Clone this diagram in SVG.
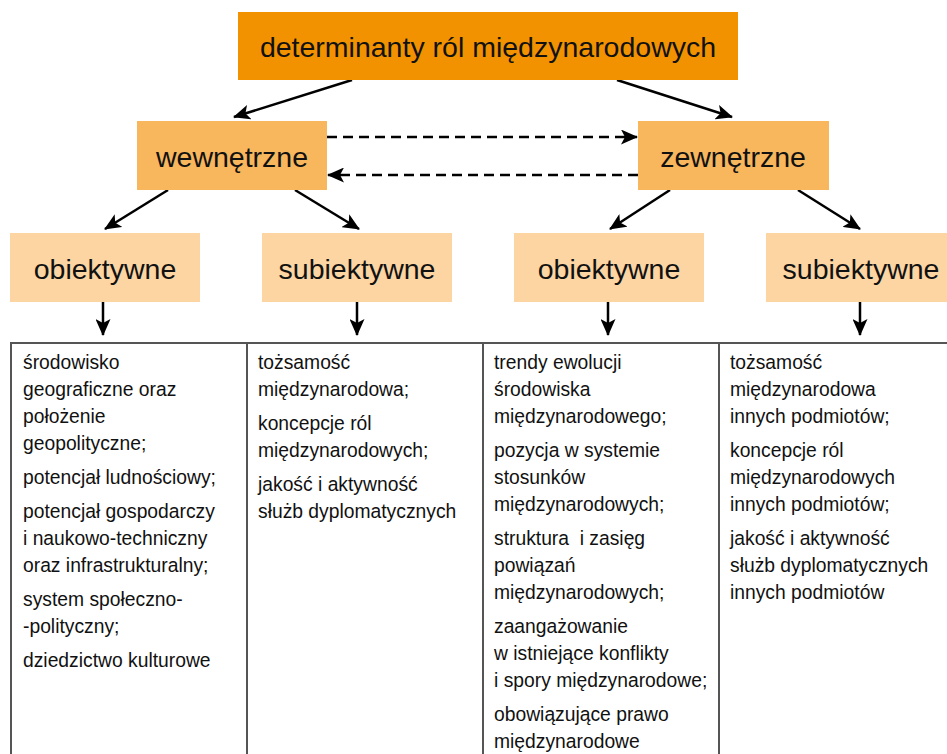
<svg xmlns="http://www.w3.org/2000/svg" width="947" height="754" viewBox="0 0 947 754">
  <style>
    .big { font-family: "Liberation Sans", Arial, sans-serif; font-size: 28.5px; fill: #111; text-anchor: middle; }
    .cell { font-family: "Liberation Sans", Arial, sans-serif; font-size: 19.3px; fill: #111; }
    .pre { white-space: pre; }
    .lvl0 { fill: #F39200; }
    .lvl1 { fill: #F8B65D; }
    .lvl2 { fill: #FCD5A3; }
    .edge { stroke: #000; stroke-width: 2.5; fill: none; marker-end: url(#head); }
    .dash { stroke-dasharray: 10 6; }
    .grid { stroke: #555; stroke-width: 2; fill: none; }
  </style>
  <defs>
    <marker id="head" markerUnits="userSpaceOnUse" markerWidth="17" markerHeight="15" refX="16" refY="7.5" orient="auto">
      <path d="M0,0 L17,7.5 L0,15 L4,7.5 Z" fill="#000"/>
    </marker>
  </defs>

  <rect width="947" height="754" fill="#fff"/>

  <!-- connectors -->
  <g id="connectors">
    <line class="edge" x1="352" y1="80" x2="234" y2="117"/>
    <line class="edge" x1="617" y1="80" x2="732" y2="117"/>
    <line class="edge dash" x1="327" y1="137" x2="637" y2="137"/>
    <line class="edge dash" x1="638" y1="175" x2="328" y2="175"/>
    <line class="edge" x1="168" y1="190" x2="105" y2="229"/>
    <line class="edge" x1="295" y1="190" x2="359" y2="229"/>
    <line class="edge" x1="670" y1="190" x2="610" y2="229"/>
    <line class="edge" x1="798" y1="190" x2="860" y2="229"/>
    <line class="edge" x1="103" y1="302" x2="103" y2="335"/>
    <line class="edge" x1="357" y1="302" x2="357" y2="335"/>
    <line class="edge" x1="608" y1="302" x2="608" y2="335"/>
    <line class="edge" x1="860" y1="302" x2="860" y2="335"/>
  </g>

  <!-- top node -->
  <g id="root">
    <rect class="lvl0" x="238" y="12" width="500" height="68"/>
    <text class="big" x="488" y="57">determinanty ról międzynarodowych</text>
  </g>

  <!-- second level -->
  <g id="internal">
    <rect class="lvl1" x="137" y="121" width="190" height="69"/>
    <text class="big" x="232" y="167">wewnętrzne</text>
  </g>
  <g id="external">
    <rect class="lvl1" x="638" y="121" width="191" height="69"/>
    <text class="big" x="733" y="167">zewnętrzne</text>
  </g>

  <!-- third level -->
  <g id="internal-objective">
    <rect class="lvl2" x="10" y="233" width="190" height="69"/>
    <text class="big" x="105" y="279">obiektywne</text>
  </g>
  <g id="internal-subjective">
    <rect class="lvl2" x="262" y="233" width="190" height="69"/>
    <text class="big" x="357" y="279">subiektywne</text>
  </g>
  <g id="external-objective">
    <rect class="lvl2" x="514" y="233" width="190" height="69"/>
    <text class="big" x="609" y="279">obiektywne</text>
  </g>
  <g id="external-subjective">
    <rect class="lvl2" x="766" y="233" width="190" height="69"/>
    <text class="big" x="861" y="279">subiektywne</text>
  </g>

  <!-- table of factors -->
  <g id="table">
    <line class="grid" x1="11" y1="343" x2="947" y2="343"/>
    <line class="grid" x1="11" y1="342" x2="11" y2="754"/>
    <line class="grid" x1="247" y1="342" x2="247" y2="754"/>
    <line class="grid" x1="483" y1="342" x2="483" y2="754"/>
    <line class="grid" x1="719" y1="342" x2="719" y2="754"/>
  </g>

  <g id="col-internal-objective" class="cell">
    <text x="23" y="369">środowisko</text>
    <text x="23" y="396">geograficzne oraz</text>
    <text x="23" y="423">położenie</text>
    <text x="23" y="450">geopolityczne;</text>
    <text x="23" y="484">potencjał ludnościowy;</text>
    <text x="23" y="518">potencjał gospodarczy</text>
    <text x="23" y="545">i naukowo-techniczny</text>
    <text x="23" y="572">oraz infrastrukturalny;</text>
    <text x="23" y="606">system społeczno-</text>
    <text x="23" y="633">-polityczny;</text>
    <text x="23" y="667">dziedzictwo kulturowe</text>
  </g>

  <g id="col-internal-subjective" class="cell">
    <text x="258" y="369">tożsamość</text>
    <text x="258" y="396">międzynarodowa;</text>
    <text x="258" y="430">koncepcje ról</text>
    <text x="258" y="457">międzynarodowych;</text>
    <text x="258" y="491">jakość i aktywność</text>
    <text x="258" y="518">służb dyplomatycznych</text>
  </g>

  <g id="col-external-objective" class="cell">
    <text x="494" y="369">trendy ewolucji</text>
    <text x="494" y="396">środowiska</text>
    <text x="494" y="423">międzynarodowego;</text>
    <text x="494" y="457">pozycja w systemie</text>
    <text x="494" y="484">stosunków</text>
    <text x="494" y="511">międzynarodowych;</text>
    <text class="pre" x="494" y="545" xml:space="preserve">struktura  i zasięg</text>
    <text x="494" y="572">powiązań</text>
    <text x="494" y="599">międzynarodowych;</text>
    <text x="494" y="633">zaangażowanie</text>
    <text x="494" y="660">w istniejące konflikty</text>
    <text x="494" y="687">i spory międzynarodowe;</text>
    <text x="494" y="721">obowiązujące prawo</text>
    <text x="494" y="748">międzynarodowe</text>
  </g>

  <g id="col-external-subjective" class="cell">
    <text x="730" y="369">tożsamość</text>
    <text x="730" y="396">międzynarodowa</text>
    <text x="730" y="423">innych podmiotów;</text>
    <text x="730" y="457">koncepcje ról</text>
    <text x="730" y="484">międzynarodowych</text>
    <text x="730" y="511">innych podmiotów;</text>
    <text x="730" y="545">jakość i aktywność</text>
    <text x="730" y="572">służb dyplomatycznych</text>
    <text x="730" y="599">innych podmiotów</text>
  </g>
</svg>
